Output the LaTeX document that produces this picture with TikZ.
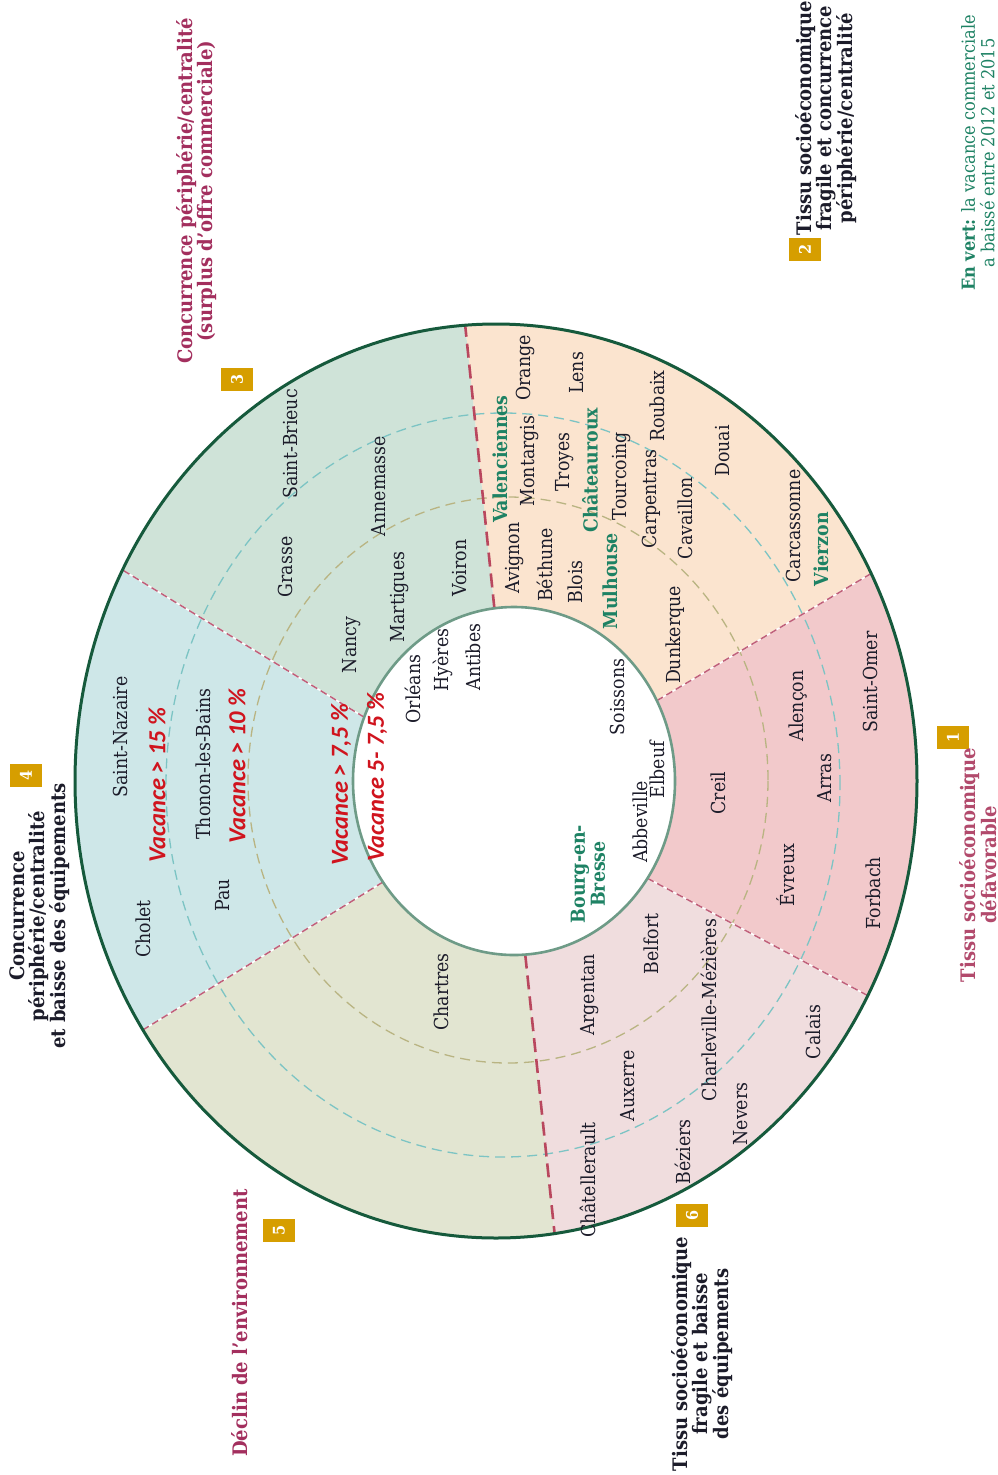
\documentclass[tikz,border=0pt]{standalone}
\usepackage{fontspec}
\IfFontExistsTF{DejaVu Serif Condensed}{%
  \IfFontExistsTF{DejaVu Serif Condensed Bold}{%
    \setmainfont{DejaVu Serif Condensed}[BoldFont={DejaVu Serif Condensed Bold}]%
  }{\setmainfont{DejaVu Serif Condensed}}%
}{\setmainfont{DejaVu Serif}[FakeStretch=0.88]}
\newfontfamily\vacfont{Carlito}
\usetikzlibrary{calc}
\definecolor{sOne}{HTML}{F2C9CB}
\definecolor{sTwo}{HTML}{FBE4CF}
\definecolor{sThree}{HTML}{CFE3D8}
\definecolor{sFour}{HTML}{CEE7E8}
\definecolor{sFive}{HTML}{E2E5D1}
\definecolor{sSix}{HTML}{F0DDDE}
\definecolor{outerc}{HTML}{165A3C}
\definecolor{innerc}{HTML}{6E9B87}
\definecolor{thickred}{HTML}{B9475E}
\definecolor{thinred}{HTML}{C0607A}
\definecolor{olivec}{HTML}{B9B482}
\definecolor{tealc}{HTML}{7CC4C4}
\definecolor{cityc}{HTML}{1C1C2A}
\definecolor{greenc}{HTML}{1E8264}
\definecolor{vacc}{HTML}{D0141E}
\definecolor{goldc}{HTML}{D69E00}
\definecolor{crimc}{HTML}{A32F5E}
\definecolor{rosec}{HTML}{B24A6C}
\begin{document}
\begin{tikzpicture}[x=1pt,y=-1pt,
  lbl/.style={rotate=90, inner sep=0pt, text=cityc, font=\fontsize{19.3}{20}\selectfont},
  gr/.style={rotate=90, inner sep=0pt, align=center, text=greenc, font=\fontsize{19.3}{20}\selectfont\bfseries},
  vac/.style={rotate=90, inner sep=0pt, text=vacc, font=\vacfont\fontsize{24.5}{26}\selectfont\bfseries\itshape},
  ttl/.style={rotate=90, inner sep=0pt, align=center, font=\fontsize{20}{20}\selectfont\bfseries},
  numbox/.style={rotate=90, fill=goldc, text=white, minimum width=23pt, minimum height=32pt, inner sep=0pt, font=\fontsize{16}{16}\selectfont\bfseries},
  thindash/.style={thinred, line width=1.5pt, dash pattern=on 7pt off 4pt},
  thickdash/.style={thickred, line width=2.6pt, dash pattern=on 14pt off 7pt},
  ringdash/.style={line width=1.3pt, dash pattern=on 10pt off 6pt}
]
\useasboundingbox (0,0) rectangle (998,1475);
\fill[white] (0,0) rectangle (998,1475);

% boundary points
\coordinate (C) at (510,781);
\coordinate (PA) at ({514+161*cos(97)},{781-174*sin(97)});
\coordinate (QA) at ({496+421*cos(94.2)},{781-457*sin(94.2)});
\coordinate (PB) at ({514+161*cos(27.5)},{781-174*sin(27.5)});
\coordinate (QB) at ({496+421*cos(27)},{781-457*sin(27)});
\coordinate (PC) at ({514+161*cos(-34)},{781-174*sin(-34)});
\coordinate (QC) at ({496+421*cos(-28)},{781-457*sin(-28)});
\coordinate (PD) at ({514+161*cos(-86)},{781-174*sin(-86)});
\coordinate (QD) at ({496+421*cos(-82)},{781-457*sin(-82)});
\coordinate (PE) at ({514+161*cos(215.5)},{781-174*sin(215.5)});
\coordinate (QE) at ({496+421*cos(213)},{781-457*sin(213)});
\coordinate (PF) at ({514+161*cos(158.5)},{781-174*sin(158.5)});
\coordinate (QF) at ({496+421*cos(152.5)},{781-457*sin(152.5)});

% sector fills
\begin{scope}
\clip (C) -- (PA) -- ($(QA)!-2!(PA)$) -- ($(QB)!-2!(PB)$) -- (PB) -- cycle;
\fill[sTwo] (496,781) ellipse [x radius=421pt, y radius=457pt];
\end{scope}
\begin{scope}
\clip (C) -- (PB) -- ($(QB)!-2!(PB)$) -- ($(QC)!-2!(PC)$) -- (PC) -- cycle;
\fill[sOne] (496,781) ellipse [x radius=421pt, y radius=457pt];
\end{scope}
\begin{scope}
\clip (C) -- (PC) -- ($(QC)!-2!(PC)$) -- ($(QD)!-2!(PD)$) -- (PD) -- cycle;
\fill[sSix] (496,781) ellipse [x radius=421pt, y radius=457pt];
\end{scope}
\begin{scope}
\clip (C) -- (PD) -- ($(QD)!-2!(PD)$) -- ($(QE)!-2!(PE)$) -- (PE) -- cycle;
\fill[sFive] (496,781) ellipse [x radius=421pt, y radius=457pt];
\end{scope}
\begin{scope}
\clip (C) -- (PE) -- ($(QE)!-2!(PE)$) -- ($(QF)!-2!(PF)$) -- (PF) -- cycle;
\fill[sFour] (496,781) ellipse [x radius=421pt, y radius=457pt];
\end{scope}
\begin{scope}
\clip (C) -- (PF) -- ($(QF)!-2!(PF)$) -- ($(QA)!-2!(PA)$) -- (PA) -- cycle;
\fill[sThree] (496,781) ellipse [x radius=421pt, y radius=457pt];
\end{scope}
\fill[white] (514,781) ellipse [x radius=161pt, y radius=174pt];

% dashed rings
\draw[ringdash, olivec] (508,780) ellipse [x radius=260pt, y radius=283pt];
\draw[ringdash, tealc] (503,785) ellipse [x radius=337pt, y radius=372pt];

% radial boundaries
\draw[thickdash] (PA) -- (QA);
\draw[thickdash] (PD) -- (QD);
\draw[white, line width=1.5pt] (PB) -- (QB);
\draw[thindash] (PB) -- (QB);
\draw[white, line width=1.5pt] (PC) -- (QC);
\draw[thindash] (PC) -- (QC);
\draw[white, line width=1.5pt] (PE) -- (QE);
\draw[thindash] (PE) -- (QE);
\draw[white, line width=1.5pt] (PF) -- (QF);
\draw[thindash] (PF) -- (QF);

% circles
\draw[outerc, line width=3pt] (496,781) ellipse [x radius=421pt, y radius=457pt];
\draw[innerc, line width=2.6pt] (514,781) ellipse [x radius=161pt, y radius=174pt];

% sector 2
\node[lbl] (orange) at (525,368) {Orange};
\node[lbl] (lens) at (577,373) {Lens};
\node[gr] (valenciennes) at (500,459) {Valenciennes};
\node[lbl] (montargis) at (530,461) {Montargis};
\node[lbl] (troyes) at (565,462) {Troyes};
\node[gr] (chateauroux) at (590,470) {Châteauroux};
\node[lbl] (tourcoing) at (622,476) {Tourcoing};
\node[lbl] (roubaix) at (657,406) {Roubaix};
\node[lbl] (carpentras) at (651,499) {Carpentras};
\node[lbl] (cavaillon) at (685,518) {Cavaillon};
\node[lbl] (douai) at (723,451) {Douai};
\node[lbl] (carcassonne) at (793,526) {Carcassonne};
\node[gr] (vierzon) at (821,549) {Vierzon};
\node[lbl] (avignon) at (515,558) {Avignon};
\node[lbl] (bethune) at (545,565) {Béthune};
\node[lbl] (blois) at (575,582) {Blois};
\node[gr] (mulhouse) at (610,581) {Mulhouse};
\node[lbl] (dunkerque) at (675,635) {Dunkerque};

% sector 3
\node[lbl] (saintbrieuc) at (290,444) {Saint-Brieuc};
\node[lbl] (annemasse) at (379,486) {Annemasse};
\node[lbl] (grasse) at (285,567) {Grasse};
\node[lbl] (martigues) at (400,597) {Martigues};
\node[lbl] (voiron) at (460,568) {Voiron};
\node[lbl] (nancy) at (352,645) {Nancy};

% sector 4
\node[lbl] (saintnazaire) at (120,737) {Saint-Nazaire};
\node[vac] (vac15) at (157,785) {Vacance > 15 \%};
\node[lbl] (thonon) at (203,764) {Thonon-les-Bains};
\node[vac] (vac10) at (237,766) {Vacance > 10 \%};
\node[lbl] (pau) at (223,895) {Pau};
\node[lbl] (cholet) at (143,929) {Cholet};
\node[vac] (vac75) at (341,785) {Vacance > 7,5 \%};
\node[vac] (vac575) at (377,777) {Vacance 5- 7,5 \%};

% centre
\node[lbl] (orleans) at (413,689) {Orléans};
\node[lbl] (hyeres) at (443,660) {Hyères};
\node[lbl] (antibes) at (473,657) {Antibes};
\node[lbl] (soissons) at (617,697) {Soissons};
\node[lbl] (elbeuf) at (657,770) {Elbeuf};
\node[lbl] (abbeville) at (640,822) {Abbeville};
\node[gr] (bourg) at (588,874) {Bourg-en-\\Bresse};

% sector 1
\node[lbl] (saintomer) at (870,682) {Saint-Omer};
\node[lbl] (alencon) at (798,706) {Alençon};
\node[lbl] (creil) at (718,793) {Creil};
\node[lbl] (arras) at (825,778) {Arras};
\node[lbl] (evreux) at (786,875) {Évreux};
\node[lbl] (forbach) at (873,893) {Forbach};

% sector 6
\node[lbl] (belfort) at (651,944) {Belfort};
\node[lbl] (argentan) at (590,995) {Argentan};
\node[lbl] (charleville) at (709,1010) {Charleville-Mézières};
\node[lbl] (calais) at (813,1032) {Calais};
\node[lbl] (auxerre) at (628,1086) {Auxerre};
\node[lbl] (nevers) at (741,1114) {Nevers};
\node[lbl] (beziers) at (683,1152) {Béziers};
\node[lbl] (chatellerault) at (588,1180) {Châtellerault};

% sector 5
\node[lbl] (chartres) at (441,992) {Chartres};

% titles and number boxes
\node[numbox] (b2) at (805,249) {2};
\node[ttl, text=cityc] (t2) at (826,118) {Tissu socioéconomique\\fragile et concurrence\\périphérie/centralité};
\node[rotate=90, inner sep=0pt, align=center, text=greenc, font=\fontsize{18}{19.5}\selectfont] (envert) at (978,153) {\textbf{En vert:} la vacance commerciale\\a baissé entre 2012 et 2015};
\node[numbox] (b3) at (237,379) {3};
\node[ttl, text=crimc] (t3) at (197,191) {Concurrence périphérie/centralité\\(surplus d’offre commerciale)};
\node[numbox] (b4) at (26,775) {4};
\node[ttl, text=cityc] (t4) at (40,916) {Concurrence\\périphérie/centralité\\et baisse des équipements};
\node[numbox] (b5) at (279,1230) {5};
\node[ttl, text=crimc] (t5) at (240,1323) {Déclin de l’environnement};
\node[numbox] (b6) at (692,1215) {6};
\node[ttl, text=cityc, font=\fontsize{20}{18}\selectfont\bfseries] (t6) at (702,1354) {Tissu socioéconomique\\fragile et baisse\\des équipements};
\node[numbox] (b1) at (953,737) {1};
\node[ttl, text=rosec, font=\fontsize{20}{18}\selectfont\bfseries] (t1) at (978,865) {Tissu socioéconomique\\défavorable};
\end{tikzpicture}
\end{document}
